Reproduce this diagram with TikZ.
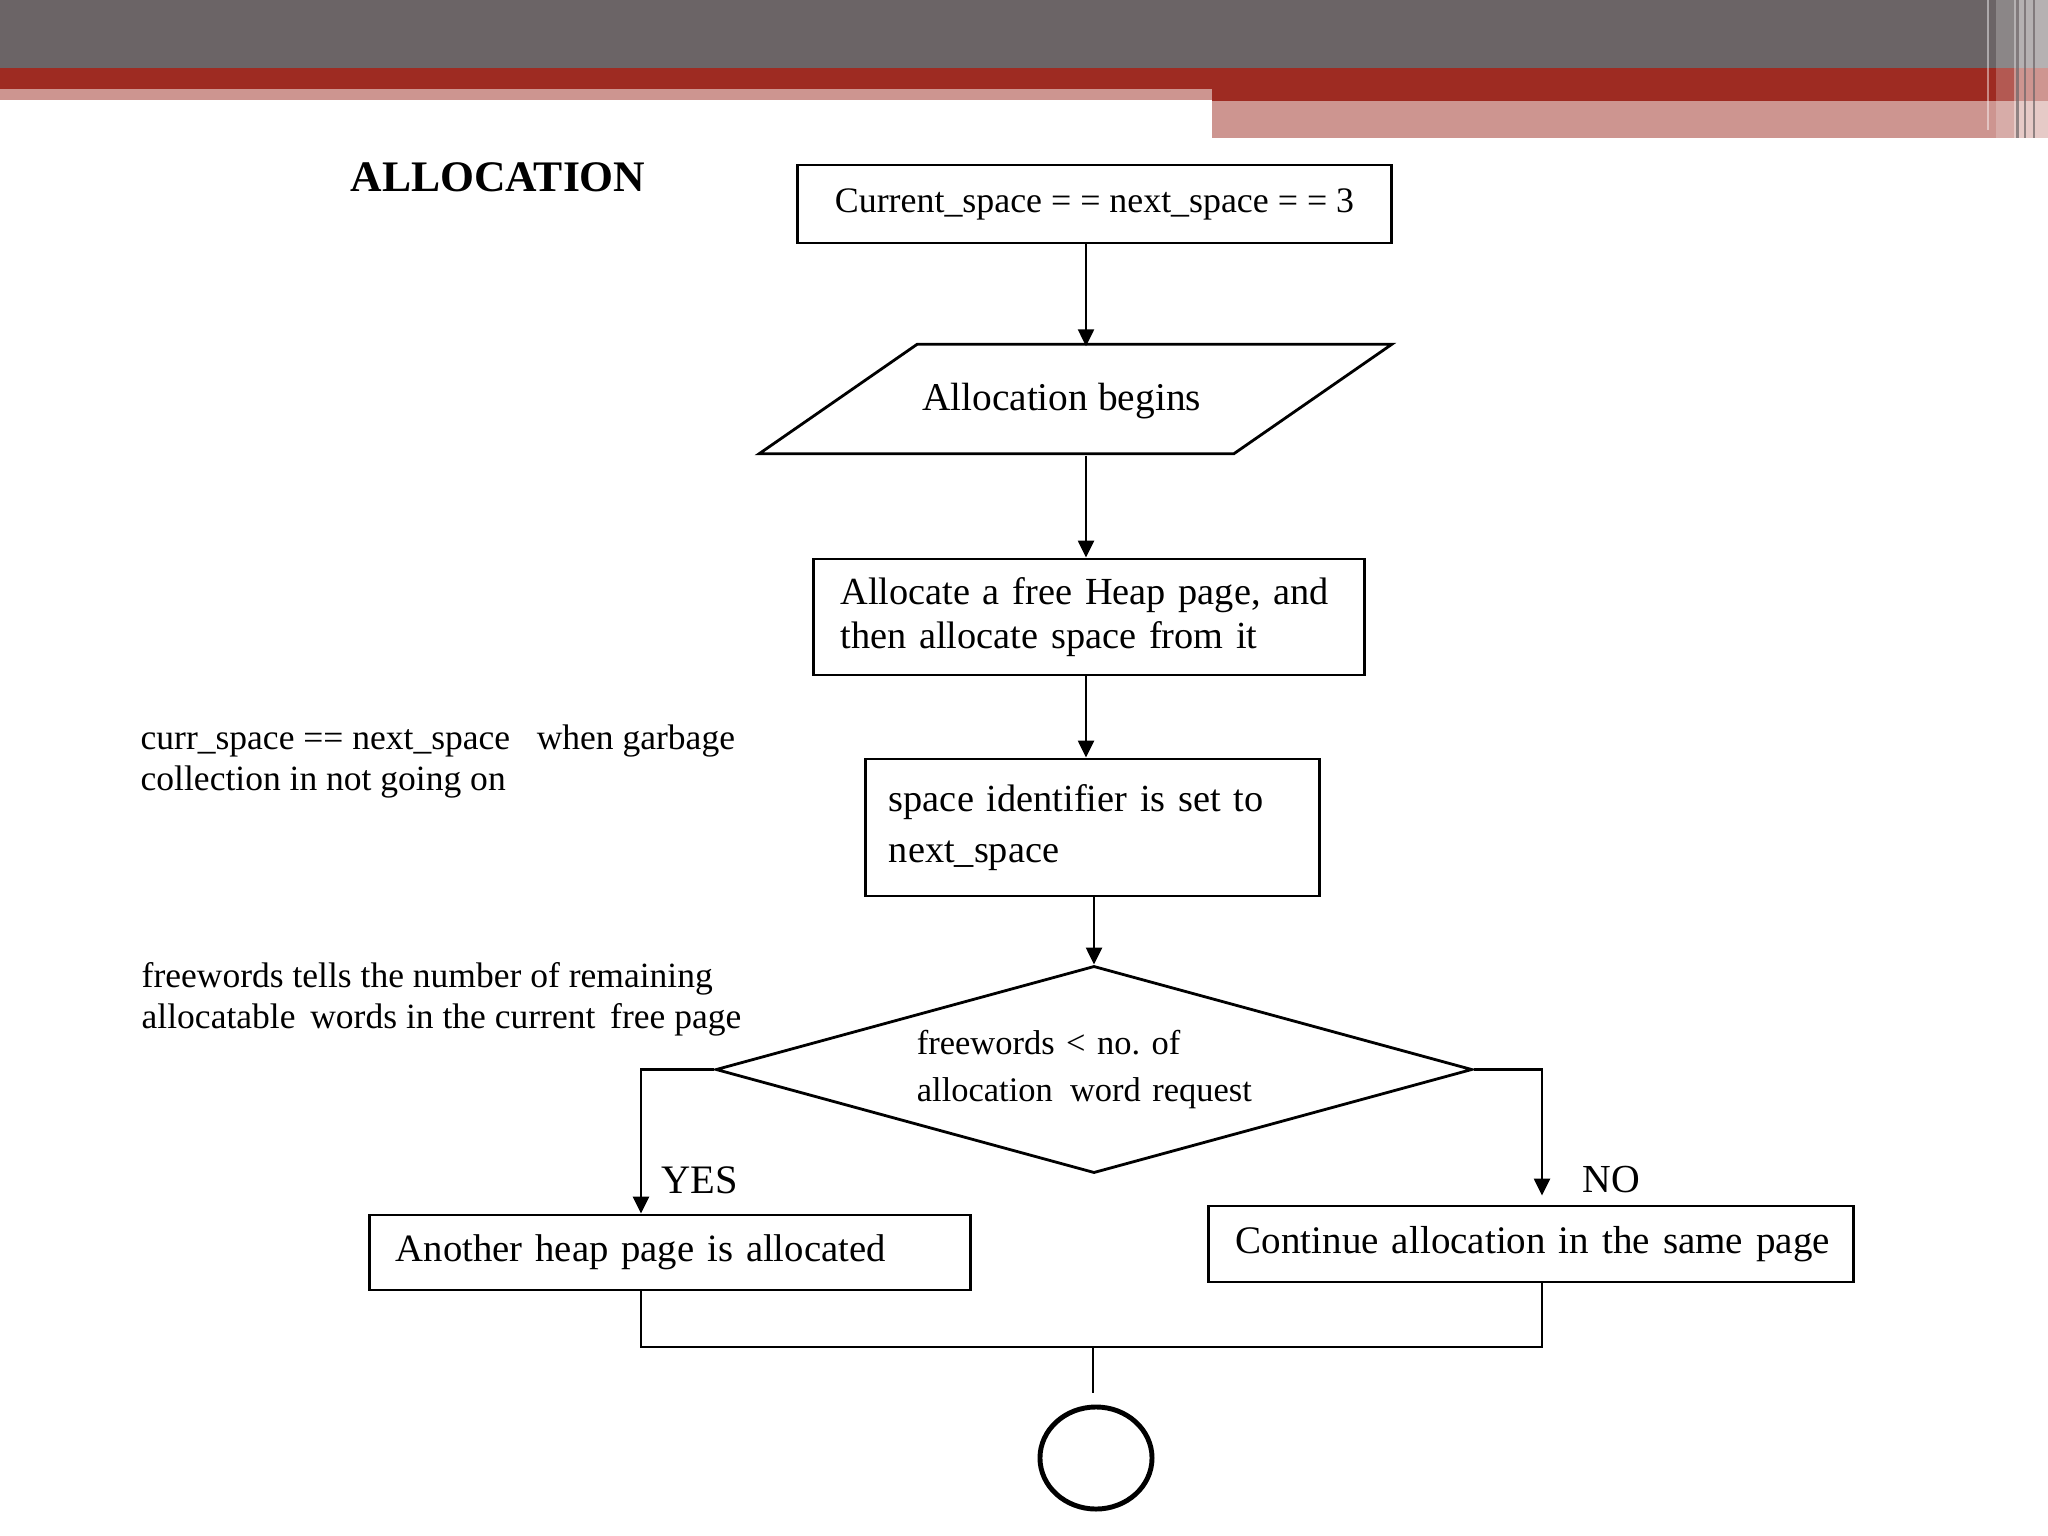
\documentclass[tikz,border=0pt]{standalone}
\usepackage{fontspec}
\setmainfont{Liberation Serif}
\usetikzlibrary{arrows.meta,shapes.geometric,calc}
\definecolor{bannergray}{RGB}{107,100,102}
\definecolor{bannerred}{RGB}{158,43,34}
\definecolor{bannerpink}{RGB}{205,149,144}
\frenchspacing
\begin{document}
\begin{tikzpicture}[x=0.01cm,y=-0.01cm,
  box/.style={draw,line width=0.8pt,rectangle,inner sep=0pt},
  arr/.style={line width=0.7pt,-{Triangle[length=0.17cm,width=0.16cm]}},
  conn/.style={line width=0.7pt},
  annot/.style={anchor=base west,align=left,inner sep=0pt,font=\fontsize{10.1pt}{11.4pt}\selectfont}]
\useasboundingbox (0,0) rectangle (2048,1536);
\fill[white] (0,0) rectangle (2048,1536);
% banner
\fill[bannergray] (0,0) rectangle (2048,68);
\fill[bannerred] (0,68) rectangle (2048,89);
\fill[bannerred] (1212,89) rectangle (2048,101);
\fill[bannerpink] (0,89) rectangle (1212,100);
\fill[bannerpink] (1212,101) rectangle (2048,138);
\fill[white,opacity=0.45] (1987,0) rectangle (1989,130);
\fill[white,opacity=0.22] (1996,0) rectangle (2014,138);
\fill[white,opacity=0.5] (2014,0) rectangle (2048,138);
\fill[bannergray,opacity=0.7] (2016,0) rectangle (2019,138);
\fill[bannergray,opacity=0.7] (2024,0) rectangle (2026,138);
\fill[bannergray,opacity=0.7] (2033,0) rectangle (2035,138);
% title
\node[font=\bfseries\fontsize{12.4pt}{14pt}\selectfont,inner sep=0pt] (title) at (498,177) {ALLOCATION};
% flow
\node[box,minimum width=5.93cm,minimum height=0.78cm,font=\fontsize{10.2pt}{11pt}\selectfont] (b1) at (1094.5,204) {Current\_space = = next\_space = = 3};
\node[inner sep=0pt,minimum width=4.73cm,minimum height=1.08cm,font=\fontsize{11.2pt}{13pt}\selectfont] (para) at (1061.5,401) {Allocation begins};
\draw[line width=0.8pt] ($(para.north west)+(93,-2)$) -- ($(para.north east)+(93,-2)$) -- ($(para.south east)+(-65,-2)$) -- ($(para.south west)+(-65,-2)$) -- cycle;
\node[box,minimum width=5.5cm,minimum height=1.16cm,text width=4.97cm,align=left,font=\fontsize{10.9pt}{12.5pt}\selectfont] (b3) at (1089,617) {\mbox{Allocate a free Heap page, and}\\\mbox{then allocate space from it}};
\node[box,minimum width=4.53cm,minimum height=1.37cm,text width=4.07cm,align=left,font=\fontsize{10.9pt}{14.5pt}\selectfont] (b4) at (1092.5,827.5) {\mbox{space identifier is set to}\\next\_space};
\node[diamond,draw,line width=0.8pt,aspect=3.65,minimum width=7.56cm,minimum height=2.07cm,inner sep=0pt,text width=3.54cm,align=left,font=\fontsize{9.8pt}{13.1pt}\selectfont] (dia) at (1094,1069.5) {\mbox{freewords < no. of}\\\mbox{allocation\ \,word request}};
\node[box,minimum width=6cm,minimum height=0.75cm,text width=5.48cm,align=left,font=\fontsize{11pt}{13pt}\selectfont] (b5) at (670,1252.5) {\mbox{Another heap page is allocated}};
\node[box,minimum width=6.44cm,minimum height=0.76cm,text width=5.9cm,align=left,font=\fontsize{11.1pt}{13pt}\selectfont] (b6) at (1531,1244) {\mbox{Continue allocation in the same page}};
\node[ellipse,draw,line width=1.4pt,minimum width=1.12cm,minimum height=1.02cm,inner sep=0pt] (endc) at (1096,1458) {};
\node[anchor=west,inner sep=0pt,font=\fontsize{11.5pt}{13pt}\selectfont] (yes) at (661,1180) {YES};
\node[anchor=west,inner sep=0pt,font=\fontsize{11.3pt}{13pt}\selectfont] (no) at (1582,1180) {NO};
% annotations
\node[annot] (n1) at (140,790) {curr\_space == next\_space\ \ \ when garbage\\collection in not going on};
\node[annot] (n2) at (141,1028) {freewords tells the number of remaining\\allocatable\ \,words in the current\ \,free page};
% connectors
\coordinate (xa) at (1086,0);
\coordinate (xl) at (641,0);
\coordinate (xr) at (1542,0);
\coordinate (jn) at (1093,1347);
\draw[arr] (b1.south -| xa) -- (para.north -| xa);
\draw[arr] (para.south -| xa) -- (b3.north -| xa);
\draw[arr] (b3.south -| xa) -- (b4.north -| xa);
\draw[arr] (b4.south -| dia.north) -- (dia.north);
\draw[arr] (dia.west) -- (dia.west -| xl) -- (b5.north -| xl);
\draw[arr,shorten >=0.09cm] (dia.east) -- (dia.east -| xr) -- (b6.north -| xr);
\draw[conn] (b5.south -| xl) -- (xl |- jn) -- (xr |- jn) -- (b6.south -| xr);
\draw[conn,shorten >=0.12cm] (jn) -- (endc.north -| jn);
\end{tikzpicture}
\end{document}
